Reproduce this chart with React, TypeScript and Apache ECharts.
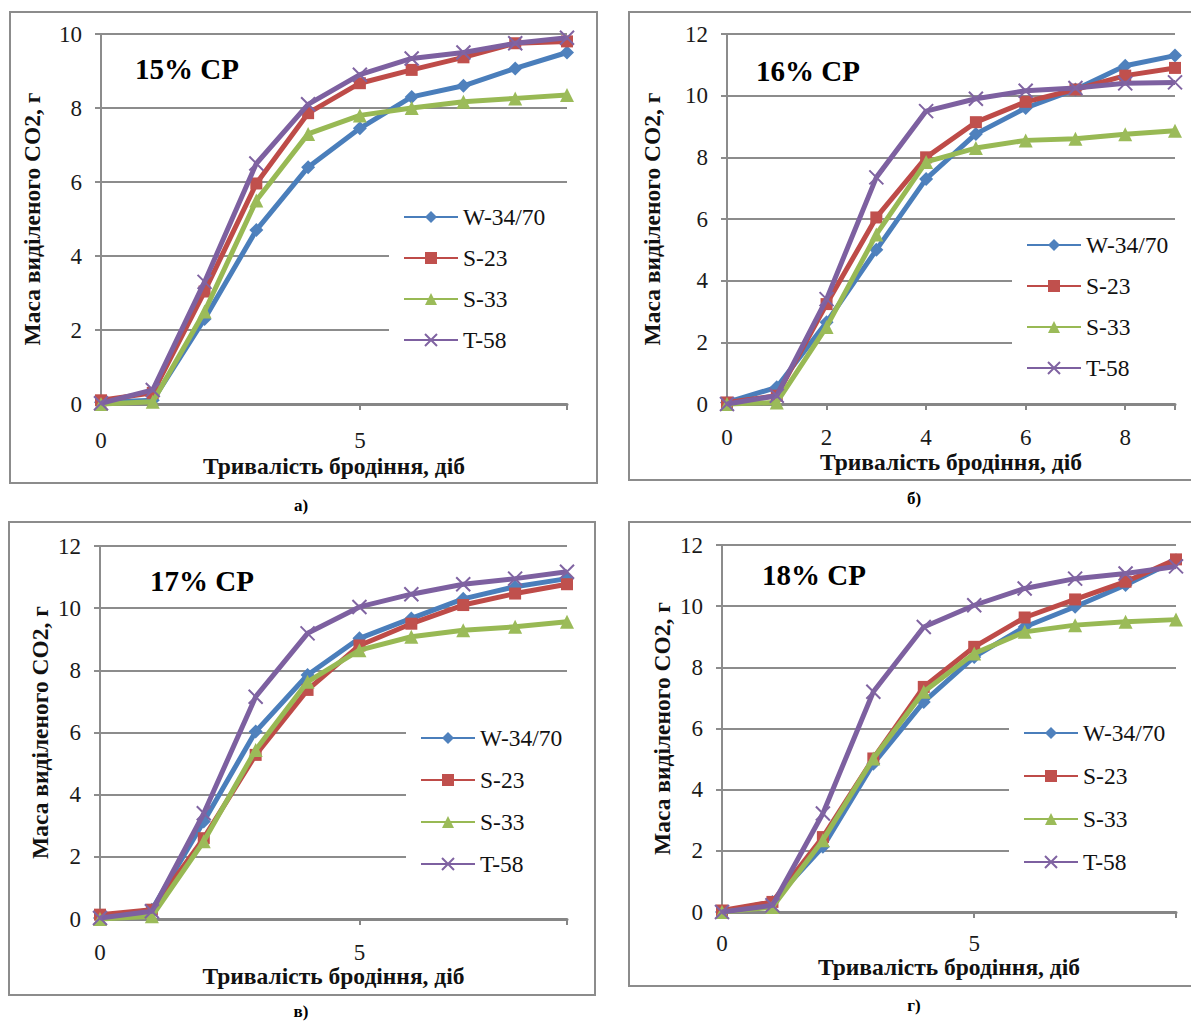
import React, { useEffect, useRef } from "react";
import * as echarts from "echarts";

// ---- data ----
const days = [0, 1, 2, 3, 4, 5, 6, 7, 8, 9];
const seriesNames = ["W-34/70", "S-23", "S-33", "T-58"];

// 15% СР
const w15 = [0.05, 0.1, 2.3, 4.7, 6.4, 7.45, 8.3, 8.6, 9.07, 9.5];
const s23_15 = [0.1, 0.3, 3.04, 5.96, 7.86, 8.67, 9.03, 9.37, 9.75, 9.8];
const s33_15 = [0.0, 0.06, 2.5, 5.5, 7.3, 7.8, 8.0, 8.17, 8.26, 8.35];
const t58_15 = [0.02, 0.38, 3.3, 6.5, 8.1, 8.9, 9.34, 9.5, 9.75, 9.9];

// 16% СР
const w16 = [0.05, 0.54, 2.65, 5.0, 7.3, 8.76, 9.6, 10.2, 10.97, 11.3];
const s23_16 = [0.05, 0.27, 3.24, 6.05, 8.0, 9.14, 9.8, 10.2, 10.65, 10.9];
const s33_16 = [0.0, 0.05, 2.5, 5.5, 7.85, 8.3, 8.55, 8.6, 8.75, 8.86];
const t58_16 = [0.0, 0.27, 3.4, 7.35, 9.5, 9.9, 10.16, 10.25, 10.4, 10.43];

// 17% СР
const w17 = [0.03, 0.3, 3.14, 6.03, 7.85, 9.03, 9.67, 10.3, 10.69, 10.95];
const s23_17 = [0.14, 0.3, 2.6, 5.28, 7.37, 8.8, 9.5, 10.1, 10.47, 10.77];
const s33_17 = [0.0, 0.09, 2.5, 5.44, 7.63, 8.65, 9.08, 9.29, 9.4, 9.56];
const t58_17 = [0.03, 0.25, 3.4, 7.15, 9.19, 10.04, 10.45, 10.77, 10.95, 11.17];

// 18% СР
const w18 = [0.0, 0.33, 2.13, 4.85, 6.87, 8.34, 9.32, 9.98, 10.69, 11.5];
const s23_18 = [0.05, 0.33, 2.45, 5.02, 7.36, 8.67, 9.63, 10.22, 10.8, 11.53];
const s33_18 = [0.0, 0.16, 2.35, 5.02, 7.2, 8.45, 9.16, 9.38, 9.49, 9.56];
const t58_18 = [0.0, 0.22, 3.22, 7.2, 9.32, 10.03, 10.58, 10.9, 11.07, 11.3];

const panelTitles = ["15% СР", "16% СР", "17% СР", "18% СР"];
const captions = ["а)", "б)", "в)", "г)"];
const yMaxes = [10, 12, 12, 12];
const xIntervals = [5, 2, 5, 5];
const xAxisTitle = "Тривалість бродіння, діб";
const yAxisTitle = "Маса виділеного СО2, г";

// ---- styling / layout ----
const FONT = "Liberation Serif, serif";
const lineColors = ["#4A7EBB", "#BE4B48", "#98B954", "#7D60A0"];
const markColors = ["#4F81BD", "#C0504D", "#9BBB59", "#8064A2"];
const symbols = ["diamond", "rect", "triangle", "path://M0,0L10,10M10,0L0,10"];
const symbolSizes = [14, 12, 14, 14];
const GRAY = "#8c8c8c";

const layouts = [
  {
    grid: { left: 101, top: 34, width: 466, height: 370 },
    border: { x: 10, y: 12, w: 587, h: 471 },
    title: [187, 69], caption: [301, 505],
    legend: { left: 389, top: 195, gap: 17 },
    yGap: 57, xGap: 50, yLabelMargin: 19, xLabelMargin: 25,
  },
  {
    grid: { left: 727, top: 34, width: 448, height: 370 },
    border: { x: 629, y: 12, w: 600, h: 468 },
    title: [808, 71], caption: [914, 498],
    legend: { left: 1012, top: 223, gap: 17 },
    yGap: 63, xGap: 46, yLabelMargin: 19, xLabelMargin: 22,
  },
  {
    grid: { left: 100, top: 546, width: 467, height: 373 },
    border: { x: 9, y: 522, w: 586, h: 473 },
    title: [202, 581], caption: [301, 1011],
    legend: { left: 406, top: 716, gap: 18 },
    yGap: 48, xGap: 45, yLabelMargin: 19, xLabelMargin: 22,
  },
  {
    grid: { left: 722, top: 545, width: 454, height: 367 },
    border: { x: 629, y: 522, w: 600, h: 464 },
    title: [814, 575], caption: [914, 1005],
    legend: { left: 1009, top: 711, gap: 19 },
    yGap: 48, xGap: 43, yLabelMargin: 19, xLabelMargin: 20,
  },
];

const panelData = [
  [w15, s23_15, s33_15, t58_15],
  [w16, s23_16, s33_16, t58_16],
  [w17, s23_17, s33_17, t58_17],
  [w18, s23_18, s33_18, t58_18],
];

function buildOption() {
  const grid = layouts.map((l) => ({ ...l.grid, containLabel: false }));
  const xAxis = layouts.map((l, i) => ({
    type: "value",
    gridIndex: i,
    min: 0,
    max: 9,
    interval: xIntervals[i],
    name: xAxisTitle,
    nameLocation: "middle",
    nameGap: l.xGap,
    nameMoveOverlap: false,
    nameTextStyle: { fontFamily: FONT, fontSize: 23.5, fontWeight: "bold", color: "#111" },
    axisLine: { show: true, onZero: false, lineStyle: { color: "#868686", width: 3 } },
    axisTick: { show: true, length: 6, lineStyle: { color: "#868686", width: 2 } },
    splitLine: { show: false },
    axisLabel: {
      margin: l.xLabelMargin,
      fontFamily: FONT,
      fontSize: 23,
      lineHeight: 22,
      color: "#1a1a1a",
      formatter: (v: number) => (v % xIntervals[i] === 0 ? String(v) : ""),
    },
  }));
  const yAxis = layouts.map((l, i) => ({
    type: "value",
    gridIndex: i,
    min: 0,
    max: yMaxes[i],
    interval: 2,
    name: yAxisTitle,
    nameLocation: "middle",
    nameRotate: 90,
    nameGap: l.yGap,
    nameMoveOverlap: false,
    nameTextStyle: { fontFamily: FONT, fontSize: 23.5, fontWeight: "bold", color: "#111" },
    axisLine: { show: true, lineStyle: { color: GRAY, width: 2 } },
    axisTick: { show: true, length: 6, lineStyle: { color: GRAY, width: 2 } },
    splitLine: { show: true, lineStyle: { color: GRAY, width: 2 } },
    axisLabel: { margin: l.yLabelMargin, fontFamily: FONT, fontSize: 23, color: "#1a1a1a" },
  }));
  const series: any[] = [];
  panelData.forEach((arrs, i) => {
    arrs.forEach((vals, j) => {
      series.push({
        type: "line",
        name: seriesNames[j],
        xAxisIndex: i,
        yAxisIndex: i,
        clip: false,
        data: days.map((d, k) => [d, vals[k]]),
        symbol: symbols[j],
        symbolSize: symbolSizes[j],
        showAllSymbol: true,
        lineStyle: { color: lineColors[j], width: 5 },
        itemStyle:
          j === 3
            ? { color: markColors[j], borderColor: markColors[j], borderWidth: 2 }
            : { color: markColors[j] },
        z: 2 + j,
      });
    });
  });
  const legend = layouts.map((l) => ({
    data: seriesNames,
    orient: "vertical",
    left: l.legend.left,
    top: l.legend.top,
    itemWidth: 54,
    itemHeight: 15,
    itemGap: l.legend.gap,
    padding: [10, 30, 10, 14],
    backgroundColor: "#ffffff",
    selectedMode: false,
    textStyle: { fontFamily: FONT, fontSize: 23.5, lineHeight: 23, color: "#111" },
  }));
  const graphic: any[] = [];
  layouts.forEach((l, i) => {
    graphic.push({
      type: "rect",
      silent: true,
      z: 0,
      shape: { x: l.border.x, y: l.border.y, width: l.border.w, height: l.border.h },
      style: { fill: "none", stroke: GRAY, lineWidth: 2 },
    });
    graphic.push({
      type: "text",
      silent: true,
      x: l.title[0],
      y: l.title[1],
      style: {
        text: panelTitles[i],
        fontFamily: FONT,
        fontSize: 29,
        fontWeight: "bold",
        fill: "#000",
        textAlign: "center",
        textVerticalAlign: "middle",
        align: "center",
        verticalAlign: "middle",
      },
    });
    graphic.push({
      type: "text",
      silent: true,
      x: l.caption[0],
      y: l.caption[1],
      style: {
        text: captions[i],
        fontFamily: FONT,
        fontSize: 17,
        fontWeight: "bold",
        fill: "#000",
        textAlign: "center",
        textVerticalAlign: "middle",
        align: "center",
        verticalAlign: "middle",
      },
    });
  });
  return {
    animation: false,
    backgroundColor: "#ffffff",
    textStyle: { fontFamily: FONT },
    grid,
    xAxis,
    yAxis,
    legend,
    series,
    graphic,
  };
}

export default function App() {
  const ref = useRef<HTMLDivElement>(null);
  useEffect(() => {
    if (!ref.current) return;
    const chart = echarts.init(ref.current, undefined, { renderer: "svg" });
    chart.setOption(buildOption() as any);
    return () => chart.dispose();
  }, []);
  return (
    <div
      ref={ref}
      style={{ position: "absolute", left: 0, top: 0, width: 1191, height: 1023, background: "#fff" }}
    />
  );
}
